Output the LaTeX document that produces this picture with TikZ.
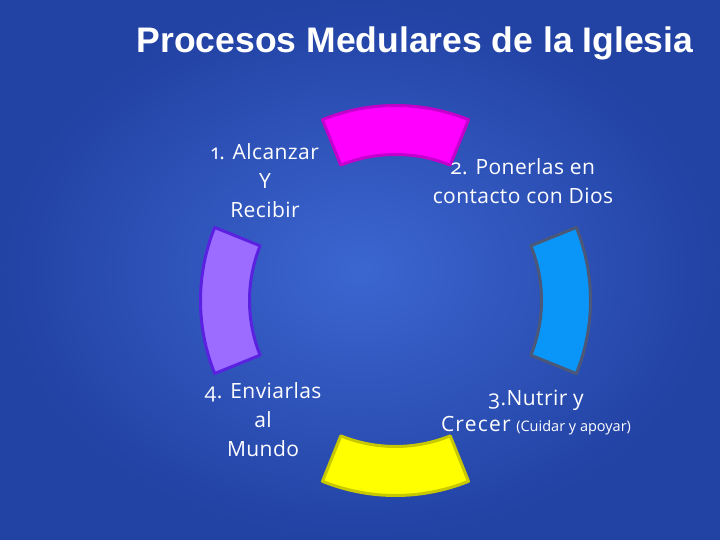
\documentclass[tikz,border=0pt]{standalone}
\usepackage{fontspec}
\setmainfont{Open Sans}[Numbers=OldStyle]
\newfontfamily\titlefont{Liberation Sans}
\usetikzlibrary{calc}
\definecolor{bgin}{RGB}{60,102,208}
\definecolor{bgout}{RGB}{34,66,164}
\definecolor{magfill}{RGB}{255,0,255}
\definecolor{magline}{RGB}{196,0,204}
\definecolor{purfill}{RGB}{155,108,255}
\definecolor{purline}{RGB}{90,34,224}
\definecolor{bluefill}{RGB}{10,150,248}
\definecolor{blueline}{RGB}{75,88,120}
\definecolor{yelfill}{RGB}{255,255,0}
\definecolor{yelline}{RGB}{200,200,0}
\tikzset{
  seg/.style={line width=3pt, line join=round},
  lbl/.style={text=white, align=center, font=\addfontfeatures{LetterSpace=2}\fontsize{21}{29}\selectfont, inner sep=0pt}
}
\begin{document}
\begin{tikzpicture}[x=1pt,y=1pt]
\useasboundingbox (0,0) rectangle (720,540);
\shade[inner color=bgin, outer color=bgout] (0,0) rectangle (720,540);
\coordinate (C) at (395.5,239.5);
% segments
\draw[seg, fill=magfill, draw=magline, shift={(C)}] (68:195) arc[start angle=68, end angle=112, radius=195] -- (112:146) arc[start angle=112, end angle=68, radius=146] -- cycle;
\draw[seg, fill=bluefill, draw=blueline, shift={(C)}] (-22:195) arc[start angle=-22, end angle=22, radius=195] -- (22:146) arc[start angle=22, end angle=-22, radius=146] -- cycle;
\draw[seg, fill=yelfill, draw=yelline, shift={(C)}] (248:195) arc[start angle=248, end angle=292, radius=195] -- (292:146) arc[start angle=292, end angle=248, radius=146] -- cycle;
\draw[seg, fill=purfill, draw=purline, shift={(C)}] (158:195) arc[start angle=158, end angle=202, radius=195] -- (202:146) arc[start angle=202, end angle=158, radius=146] -- cycle;
% title
\node[text=white, font=\titlefont\bfseries\fontsize{35.5}{40}\selectfont, inner sep=0pt, anchor=base] (title) at (415,487) {Procesos Medulares de la Iglesia};
% labels
\node[lbl] (p1) at (265,359) {1. Alcanzar\\Y\\Recibir};
\node[lbl] (p2) at (523,358.5) {2. Ponerlas en\\contacto con Dios};
\node[lbl, font=\fontsize{21}{26}\selectfont] (p4) at (263,120) {{\addfontfeatures{LetterSpace=2}4. Enviarlas}\\[3pt]{\addfontfeatures{LetterSpace=2}al}\\[3pt]{\addfontfeatures{LetterSpace=2}Mundo}};
\node[lbl, font=\fontsize{21}{26}\selectfont] (p3) at (536,127) {{\addfontfeatures{LetterSpace=2}3.Nutrir y}\\{\addfontfeatures{LetterSpace=6}Crecer} {\fontsize{14.5}{26}\selectfont(Cuidar y apoyar)}};
\end{tikzpicture}
\end{document}
